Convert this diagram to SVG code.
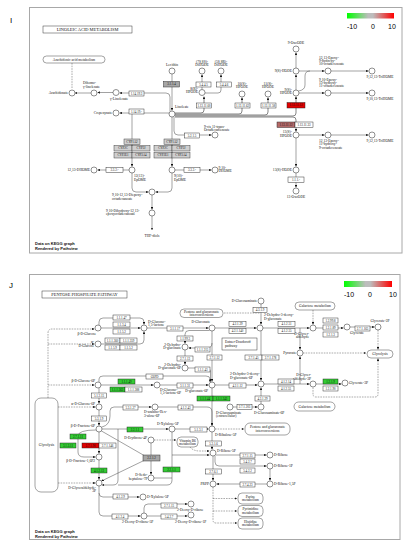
<svg xmlns="http://www.w3.org/2000/svg" width="407" height="550" viewBox="0 0 407 550">
<defs>
<linearGradient id="lg" x1="0" x2="1" y1="0" y2="0">
<stop offset="0" stop-color="#00ff00"/><stop offset="0.45" stop-color="#bdbdbd"/><stop offset="0.55" stop-color="#bdbdbd"/><stop offset="1" stop-color="#ff0000"/>
</linearGradient>
<marker id="a" viewBox="0 0 4 4" refX="4" refY="2" markerWidth="2.4" markerHeight="2.4" markerUnits="userSpaceOnUse" orient="auto"><path d="M0,0 L4,2 L0,4z" fill="#111"/></marker>
<style>
.fr{fill:#fff;stroke:#a8a8a8;stroke-width:1}
circle{fill:#fff;stroke:#222;stroke-width:.5}
.b{fill:#fff;stroke:#222;stroke-width:.45}
.gn{fill:#33cc33;stroke:#222;stroke-width:.45}
.rd{fill:#e00000;stroke:#222;stroke-width:.45}
.br{fill:#b46a6a;stroke:#222;stroke-width:.45}
.gy{fill:#a6a6a6;stroke:#222;stroke-width:.45}
.cy{fill:#cfcfcf;stroke:#333;stroke-width:.45}
.rb{fill:#fff;stroke:#333;stroke-width:.45}
.l{fill:none;stroke:#444;stroke-width:.5}
.w{fill:none;stroke:#777;stroke-width:.9}
.d{fill:none;stroke:#444;stroke-width:.45;stroke-dasharray:1.6 1}
.t{font-family:"Liberation Serif",serif;font-size:3.6px;fill:#111}
.k{font-family:"Liberation Serif",serif;font-size:3.1px;fill:#111;text-anchor:middle}
.e{text-anchor:end}
.m{text-anchor:middle}
.s{font-family:"Liberation Sans",Arial,sans-serif;fill:#000}
.hd{font-family:"Liberation Serif",serif;font-size:4.4px;fill:#111;text-anchor:middle}
.dk{font-family:"Liberation Sans",Arial,sans-serif;font-size:4px;font-weight:bold;fill:#111}
</style>
</defs>
<rect width="407" height="550" fill="#fff"/>

<!-- ================= PANEL I ================= -->
<g id="panel-I">
<text class="s" x="10" y="23" font-size="8" fill="#000">I</text>
<rect class="fr" x="29.5" y="7.5" width="372.5" height="245.5"/>
<g id="legend-I">
<rect x="347" y="13" width="47" height="5.5" fill="url(#lg)"/>
<text class="s m" x="352" y="29" font-size="7">-10</text>
<text class="s m" x="373" y="29" font-size="7">0</text>
<text class="s m" x="392" y="29" font-size="7">10</text>
</g>
<g id="title-I"><rect class="b" x="43" y="26" width="89" height="7"/><text class="hd" x="87.5" y="31.2">LINOLEIC ACID METABOLISM</text></g>
<text class="dk" x="35" y="244.5">Data on KEGG graph</text>
<text class="dk" x="35" y="249.5">Rendered by Pathview</text>
</g>

<g id="connectors-I">
<path class="d" d="M72,63 V89"/>
<path class="l" d="M91,93 H75" marker-end="url(#a)"/>
<path class="l" d="M113,92.5 H97.5" marker-end="url(#a)"/>
<path class="l" d="M170,111 V97 Q170,93 166,93 H119.5" marker-end="url(#a)"/>
<path class="l" d="M169,113 H119.5" marker-end="url(#a)"/>
<path class="l" d="M132,113 V166.5" marker-end="url(#a)"/>
<path class="l" d="M172,74 V110.5" marker-end="url(#a)"/>
<path class="l" d="M172,117 V166.5" marker-end="url(#a)"/>
<path class="l" d="M174,117 V131 Q174,135 178,135 H211.5" marker-end="url(#a)"/>
<path class="w" d="M175,113 H201 Q204,113 204,110 V96.5" marker-end="url(#a)"/>
<path class="w" d="M175,114 H239 Q242,114 242,111 V97.5" marker-end="url(#a)"/>
<path class="w" d="M175,115 H265 Q268,115 268,112 V97.5" marker-end="url(#a)"/>
<path class="w" d="M175,116 H293 Q296,116 296,113 V96.5" marker-end="url(#a)"/>
<path class="w" d="M175,117 H293 Q296,117 296,120 V131.5" marker-end="url(#a)"/>
<path class="l" d="M202,89.5 V74.5" marker-end="url(#a)"/>
<path class="l" d="M205,93 H218 Q221,93 221,90 V74.5" marker-end="url(#a)"/>
<path class="l" d="M296,90 V74.5" marker-end="url(#a)"/>
<path class="l" d="M296,68 V52.5" marker-end="url(#a)"/>
<path class="l" d="M299,71 H324.5" marker-end="url(#a)"/>
<path class="l" d="M331,71 H368.5" marker-end="url(#a)"/>
<path class="l" d="M299,93 H324.5" marker-end="url(#a)"/>
<path class="l" d="M331,93 H368.5" marker-end="url(#a)"/>
<path class="l" d="M298.5,91 Q305,90 305,85 V76 Q305,71 310,71"/>
<path class="l" d="M299,135 H324.5" marker-end="url(#a)"/>
<path class="l" d="M331,135 H368.5" marker-end="url(#a)"/>
<path class="l" d="M296,138 V166.5" marker-end="url(#a)"/>
<path class="l" d="M296,173 V187.5" marker-end="url(#a)"/>
<path class="l" d="M129,170 H97.5" marker-end="url(#a)"/>
<path class="l" d="M175,170 H211.5" marker-end="url(#a)"/>
<path class="l" d="M132,173 V188 Q132,192 136,192 H148.5" marker-end="url(#a)"/>
<path class="l" d="M172,173 V188 Q172,192 168,192 H155.5" marker-end="url(#a)"/>
<path class="l" d="M152,195 V209.5" marker-end="url(#a)"/>
<path class="l" d="M152,216 V230" marker-end="url(#a)"/>
</g>

<g id="nodes-I">
<g id="i-arachidonic-map"><rect class="rb" x="43" y="56" width="62" height="7" rx="3.5"/><text class="t m" x="74" y="60.8" font-size="3.2">Arachidonic acid metabolism</text></g>
<g id="i-arachidonate"><circle cx="72" cy="93" r="3"/><text class="t e" x="68" y="94.2">Arachidonate</text></g>
<g id="i-dihomo"><circle cx="94" cy="93" r="3"/><text class="t" x="83" y="84">Dihomo-<tspan x="83" dy="3.6">γ-linolenate</tspan></text></g>
<g id="i-glinolenate"><circle cx="116" cy="92.5" r="3"/><text class="t" x="110" y="99.5">γ-Linolenate</text></g>
<g id="i-lecithin"><circle cx="172" cy="71" r="3"/><text class="t m" x="172" y="66">Lecithin</text></g>
<g id="i-linoleate"><circle cx="172" cy="114" r="3"/><text class="t" x="175" y="108">Linoleate</text></g>
<g id="i-crepenynate"><circle cx="116" cy="113" r="3"/><text class="t e" x="112" y="114.2">Crepenynate</text></g>
<g id="i-78dihode"><circle cx="202" cy="71" r="3"/><text class="t m" x="202" y="62.5">(7S,8S)-<tspan x="202" dy="3.6">DiHODE</tspan></text></g>
<g id="i-58dihode"><circle cx="221" cy="71" r="3"/><text class="t m" x="221" y="62.5">(5S,8R)-<tspan x="221" dy="3.6">DiHODE</tspan></text></g>
<g id="i-8hpode"><circle cx="202" cy="92.5" r="3"/><text class="t e" x="198" y="89.5">8(R)-<tspan x="198" dy="3.6">HPODE</tspan></text></g>
<g id="i-10hpode"><circle cx="242" cy="94" r="3"/><text class="t m" x="242" y="84.5">10(S)-<tspan x="242" dy="3.6">HPODE</tspan></text></g>
<g id="i-11hpode"><circle cx="268" cy="94" r="3"/><text class="t m" x="268" y="84.5">11(S)-<tspan x="268" dy="3.6">HPODE</tspan></text></g>
<g id="i-9hpode"><circle cx="296" cy="93" r="3"/><text class="t e" x="292" y="90.5">9(S)-<tspan x="292" dy="3.6">HPODE</tspan></text></g>
<g id="i-9hode"><circle cx="296" cy="71" r="3"/><text class="t e" x="292" y="72.2">9(S)-HODE</text></g>
<g id="i-9oxoode"><circle cx="296" cy="49" r="3"/><text class="t m" x="296" y="44">9-OxoODE</text></g>
<g id="i-epoxy1"><circle cx="328" cy="71" r="3"/><text class="t" x="319" y="58.5">12,13-Epoxy-<tspan x="319" dy="3.3">9-hydroxy-</tspan><tspan x="319" dy="3.3">10-octadecenoate</tspan></text></g>
<g id="i-trihome1"><circle cx="372" cy="71" r="3"/><text class="t m" x="380" y="78">9,12,13-TriHOME</text></g>
<g id="i-epoxy2"><circle cx="328" cy="93" r="3"/><text class="t" x="319" y="80.5">9,10-Epoxy-<tspan x="319" dy="3.3">13-hydroxy-</tspan><tspan x="319" dy="3.3">11-octadecenoate</tspan></text></g>
<g id="i-trihome2"><circle cx="372" cy="93" r="3"/><text class="t m" x="380" y="100">9,10,13-TriHOME</text></g>
<g id="i-13hpode"><circle cx="296" cy="135" r="3"/><text class="t e" x="292" y="133">13(S)-<tspan x="292" dy="3.6">HPODE</tspan></text></g>
<g id="i-epoxy3"><circle cx="328" cy="135" r="3"/><text class="t" x="319" y="142">12,13-Epoxy-<tspan x="319" dy="3.3">11-hydroxy-</tspan><tspan x="319" dy="3.3">9-octadecenoate</tspan></text></g>
<g id="i-trihome3"><circle cx="372" cy="135" r="3"/><text class="t m" x="380" y="142">9,12,13-TriHOME</text></g>
<g id="i-13hode"><circle cx="296" cy="170" r="3"/><text class="t e" x="292" y="171.2">13(S)-HODE</text></g>
<g id="i-13oxoode"><circle cx="296" cy="191" r="3"/><text class="t m" x="296" y="198">13-OxoODE</text></g>
<g id="i-octadecadienoate"><circle cx="215" cy="135" r="3"/><text class="t" x="204" y="127.5">9-cis,11-trans-<tspan x="204" dy="3.6">Octadecadienoate</tspan></text></g>
<g id="i-1213epome"><circle cx="132" cy="170" r="3"/><text class="t" x="134" y="177">12(13)-<tspan x="134" dy="3.6">EpOME</tspan></text></g>
<g id="i-1213dhome"><circle cx="94" cy="170" r="3"/><text class="t e" x="90" y="171.2">12,13-DHOME</text></g>
<g id="i-910epome"><circle cx="172" cy="170" r="3"/><text class="t" x="174" y="177">9(10)-<tspan x="174" dy="3.6">EpOME</tspan></text></g>
<g id="i-910dhome"><circle cx="215" cy="170" r="3"/><text class="t" x="218.5" y="168.5">9,10-<tspan x="218.5" dy="3.6">DHOME</tspan></text></g>
<g id="i-diepoxy"><circle cx="152" cy="192" r="3"/><text class="t" x="112" y="196">9,10-12,13-Diepoxy-<tspan x="112" dy="3.6">octadecanoate</tspan></text></g>
<g id="i-dihydroxy"><circle cx="152" cy="213" r="3"/><text class="t" x="106" y="211.5">9,10-Dihydroxy-12,13-<tspan x="106" dy="3.6">epoxyoctadecanoate</tspan></text></g>
<g id="i-thfdiols"><text class="t m" x="152" y="237">THF-diols</text></g>

<g id="ie-1.14.19.3"><rect class="b" x="129" y="91" width="15" height="5"/><text class="k" x="136.5" y="94.6">1.14.19.3</text></g>
<g id="ie-1.14.19.x"><rect class="b" x="129" y="109" width="15" height="5"/><text class="k" x="136.5" y="112.6">1.14.19.-</text></g>
<g id="ie-3.1.1.4"><rect class="gy" x="163.5" y="81.5" width="16" height="5.5"/><text class="k" x="171.5" y="85.3">3.1.1.4</text></g>
<g id="ie-5.4.4.5"><rect class="b" x="196" y="82" width="15" height="5"/><text class="k" x="203.5" y="85.6">5.4.4.5</text></g>
<g id="ie-5.4.4.6"><rect class="b" x="216.5" y="82" width="15" height="5"/><text class="k" x="224" y="85.6">5.4.4.6</text></g>
<g id="ie-1.13.11.60"><rect class="b" x="196.5" y="103" width="15" height="5"/><text class="k" x="204" y="106.6">1.13.11.60</text></g>
<g id="ie-1.13.11.62"><rect class="b" x="235" y="103" width="15" height="5"/><text class="k" x="242.5" y="106.6">1.13.11.62</text></g>
<g id="ie-1.13.11.58"><rect class="b" x="261" y="103" width="15" height="5"/><text class="k" x="268.5" y="106.6">1.13.11.58</text></g>
<g id="ie-1.13.11.12a"><rect class="rd" x="287" y="102.5" width="18" height="5.5"/><text class="k" x="296" y="106.4">1.13.11.12</text></g>
<g id="ie-1.13.11.12b"><rect class="br" x="277" y="122" width="18" height="5.5"/><text class="k" x="286" y="125.9">1.13.11.12</text></g>
<g id="ie-1.13.11.33"><rect class="b" x="295" y="122" width="18" height="5.5"/><text class="k" x="304" y="125.9">1.13.11.33</text></g>
<g id="ie-1.1.1.x"><rect class="b" x="288" y="177" width="16" height="5.5"/><text class="k" x="296" y="180.8">1.1.1.-</text></g>
<g id="ie-5.2.1.5"><rect class="b" x="184.5" y="133" width="15" height="5"/><text class="k" x="192" y="136.6">5.2.1.5</text></g>
<g id="ie-cyp-left">
<rect class="cy" x="124" y="139" width="16" height="5.5"/><text class="k" x="132" y="142.8">CYP1A2</text>
<rect class="cy" x="114" y="145.5" width="18" height="5.5"/><text class="k" x="123" y="149.3">CYP2C</text>
<rect class="cy" x="132" y="145.5" width="18" height="5.5"/><text class="k" x="141" y="149.3">CYP2J</text>
<rect class="cy" x="114" y="152.5" width="18" height="5.5"/><text class="k" x="123" y="156.3">CYP2E1</text>
<rect class="cy" x="132" y="152.5" width="18" height="5.5"/><text class="k" x="141" y="156.3">CYP3A4</text>
</g>
<g id="ie-cyp-right">
<rect class="cy" x="164" y="139" width="16" height="5.5"/><text class="k" x="172" y="142.8">CYP1A2</text>
<rect class="cy" x="154" y="145.5" width="18" height="5.5"/><text class="k" x="163" y="149.3">CYP2C</text>
<rect class="cy" x="172" y="145.5" width="18" height="5.5"/><text class="k" x="181" y="149.3">CYP2J</text>
<rect class="cy" x="154" y="152.5" width="18" height="5.5"/><text class="k" x="163" y="156.3">CYP2E1</text>
<rect class="cy" x="172" y="152.5" width="18" height="5.5"/><text class="k" x="181" y="156.3">CYP3A4</text>
</g>
<g id="ie-3.3.2.x-a"><rect class="b" x="106" y="167.5" width="17" height="5"/><text class="k" x="114.5" y="171.1">3.3.2.-</text></g>
<g id="ie-3.3.2.x-b"><rect class="b" x="184" y="167.5" width="16" height="5"/><text class="k" x="192" y="171.1">3.3.2.-</text></g>
</g>

<!-- ================= PANEL J ================= -->
<g id="panel-J">
<text class="s" x="9" y="288" font-size="8" fill="#000">J</text>
<rect class="fr" x="29.5" y="274.5" width="370.5" height="265"/>
<g id="legend-J">
<rect x="344" y="281" width="48" height="6" fill="url(#lg)"/>
<text class="s m" x="349" y="297" font-size="7">-10</text>
<text class="s m" x="370" y="297" font-size="7">0</text>
<text class="s m" x="393" y="297" font-size="7">10</text>
</g>
<g id="title-J"><rect class="b" x="42" y="291" width="85" height="7"/><text class="hd" x="84.5" y="296.2">PENTOSE PHOSPHATE PATHWAY</text></g>
<text class="dk" x="35" y="532.5">Data on KEGG graph</text>
<text class="dk" x="35" y="537.5">Rendered by Pathview</text>
</g>

<g id="connectors-J">
<path class="d" d="M48,398 V333 Q48,329 52,329 H94.5" marker-end="url(#a)"/>
<path class="d" d="M48,344 H94.5" marker-end="url(#a)"/>
<path class="d" d="M48,385 H94.5" marker-end="url(#a)"/>
<path class="d" d="M58,407 H95.5" marker-end="url(#a)"/>
<path class="d" d="M58,483 H95.5" marker-end="url(#a)"/>
<path class="l" d="M99,325 V322 Q99,318 103,318 H140 Q144,318 144,322 V324.5" marker-end="url(#a)"/>
<path class="l" d="M101,328 H140.5" marker-end="url(#a)"/>
<path class="l" d="M101,344 H140 Q144,344 144,340 V331.5" marker-end="url(#a)"/>
<path class="l" d="M147,328 H208.5" marker-end="url(#a)"/>
<path class="l" d="M209.5,330.5 H189 Q185,330.5 185,334.5 V343.5" marker-end="url(#a)"/>
<path class="l" d="M212,343 Q212,348 207,348 H188.5" marker-end="url(#a)"/>
<path class="l" d="M185,350 V364.5" marker-end="url(#a)"/>
<path class="l" d="M188,368 H206 Q210.5,368 210.5,372 V381.5" marker-end="url(#a)"/>
<path class="l" d="M99,382 V379 Q99,376 103,376 H206 Q210,376 210,379 V382" marker-end="url(#a)"/>
<path class="l" d="M101,385 H153.5" marker-end="url(#a)"/>
<path class="l" d="M160,385 H208.5" marker-end="url(#a)"/>
<path class="l" d="M212,331 V381.5" marker-end="url(#a)"/>
<path class="l" d="M212,388 V425.5" marker-end="url(#a)"/>
<path class="d" d="M224,313 H260"/>
<path class="l" d="M261,304 V324.5" marker-end="url(#a)"/>
<path class="l" d="M215,328 H256.5" marker-end="url(#a)"/>
<path class="l" d="M263,328 H309.5" marker-end="url(#a)"/>
<path class="l" d="M300,328 V349.5" marker-end="url(#a)"/>
<path class="l" d="M300,384 V356.5" marker-end="url(#a)"/>
<path class="d" d="M303,353 H366" marker-end="url(#a)"/>
<path class="l" d="M261,331 V380.5" marker-end="url(#a)"/>
<path class="d" d="M313,310 V324.5" marker-end="url(#a)"/>
<path class="l" d="M316,328 H343.5" marker-end="url(#a)"/>
<path class="l" d="M350,327 H374.5" marker-end="url(#a)"/>
<path class="d" d="M378,330 V349.5" marker-end="url(#a)"/>
<path class="d" d="M313,387.5 V394 Q313,397 316,397 H375 Q378,397 378,394 V358.5" marker-end="url(#a)"/>
<path class="l" d="M215,385 H257.5" marker-end="url(#a)"/>
<path class="l" d="M264,384 H309.5" marker-end="url(#a)"/>
<path class="l" d="M316,384 H341.5" marker-end="url(#a)"/>
<path class="l" d="M261,404 V387.5" marker-end="url(#a)"/>
<path class="l" d="M233,407 H257.5" marker-end="url(#a)"/>
<path class="l" d="M99,388 V403.5" marker-end="url(#a)"/>
<path class="l" d="M99,410 V425.5" marker-end="url(#a)"/>
<path class="l" d="M102,427 Q110,425 110,416 V411 Q110,407 114,407 H151.5" marker-end="url(#a)"/>
<path class="l" d="M158,407 H207 Q212,407 212,412 V425.5" marker-end="url(#a)"/>
<path class="l" d="M102,429 H168.5" marker-end="url(#a)"/>
<path class="l" d="M175,429 H208.5" marker-end="url(#a)"/>
<path class="d" d="M215,429 H244" marker-end="url(#a)"/>
<path class="l" d="M118,429 V480 Q118,485 113,485 H102" marker-end="url(#a)"/>
<path class="l" d="M172,432 V480 Q172,485 167,485 H118"/>
<path class="l" d="M154,478 H172"/>
<path class="l" d="M172,455 H209.5" marker-end="url(#a)"/>
<path class="l" d="M151,443 V474.5" marker-end="url(#a)"/>
<path class="l" d="M101.5,431 L145,456"/>
<path class="l" d="M145,460 L101.5,481" marker-end="url(#a)"/>
<path class="d" d="M154,440 H176" marker-end="url(#a)"/>
<path class="d" d="M190,447 Q193,451 200,451 H209.5" marker-end="url(#a)"/>
<path class="l" d="M212,432 V449.5" marker-end="url(#a)"/>
<path class="l" d="M216,455 H266.5" marker-end="url(#a)"/>
<path class="l" d="M215,456 V462 Q215,466 219,466 H266.5" marker-end="url(#a)"/>
<path class="l" d="M270,469 V480.5" marker-end="url(#a)"/>
<path class="l" d="M267,484 H216.5" marker-end="url(#a)"/>
<path class="l" d="M213,456 V480.5" marker-end="url(#a)"/>
<path class="d" d="M213,487 V520 Q213,523 216,523 H237" marker-end="url(#a)"/>
<path class="d" d="M213,498.5 H237" marker-end="url(#a)"/>
<path class="d" d="M213,511 H237" marker-end="url(#a)"/>
<path class="l" d="M96,430 Q78,430 78,436 V452 Q78,457 84,457 H95.5" marker-end="url(#a)"/>
<path class="l" d="M99,432 V453.5" marker-end="url(#a)"/>
<path class="l" d="M99,460 V479.5" marker-end="url(#a)"/>
<path class="l" d="M99,486 V493 Q99,497 103,497 H139.5" marker-end="url(#a)"/>
<path class="l" d="M99,493 V512 Q99,516 103,516 H140.5" marker-end="url(#a)"/>
<path class="l" d="M144,513 V508 Q144,504 148,504 H187.5" marker-end="url(#a)"/>
<path class="l" d="M147,516 H187.5" marker-end="url(#a)"/>
</g>

<g id="nodes-J">
<g id="j-glycolysis-left"><rect class="rb" x="35" y="398" width="23" height="94" rx="6"/><text class="t m" x="46.5" y="446" font-size="3.3">Glycolysis</text></g>
<g id="j-pentose-map1"><rect class="rb" x="180" y="309" width="43" height="8.5" rx="4"/><text class="t m" x="201.5" y="312.5" font-size="3.1">Pentose and glucuronate<tspan x="201.5" dy="3.3">interconversions</tspan></text></g>
<g id="j-entner"><rect class="b" x="222" y="338" width="35" height="12"/><text class="t" x="225" y="343" font-size="3.2">Entner-Doudoroff<tspan x="225" dy="3.6">pathway</tspan></text></g>
<g id="j-galactose1"><rect class="rb" x="295" y="302" width="40" height="8" rx="4"/><text class="t m" x="315" y="307.2" font-size="3.2">Galactose metabolism</text></g>
<g id="j-glycolysis-right"><rect class="rb" x="367" y="350" width="26" height="8" rx="4"/><text class="t m" x="380" y="355.2" font-size="3.3">Glycolysis</text></g>
<g id="j-galactose2"><rect class="rb" x="294" y="402" width="41" height="9" rx="4.5"/><text class="t m" x="314.5" y="407.6" font-size="3.2">Galactose metabolism</text></g>
<g id="j-pentose-map2"><rect class="rb" x="245" y="423" width="45" height="12" rx="5"/><text class="t m" x="267.5" y="428.3" font-size="3.1">Pentose and glucuronate<tspan x="267.5" dy="3.4">interconversions</tspan></text></g>
<g id="j-vitb6"><rect class="rb" x="177" y="437" width="21" height="10" rx="4"/><text class="t m" x="187.5" y="441.5" font-size="3">Vitamin B6<tspan x="187.5" dy="3.3">metabolism</tspan></text></g>
<g id="j-purine"><rect class="rb" x="238" y="493" width="25" height="11" rx="4"/><text class="t m" x="250.5" y="497.8" font-size="3">Purine<tspan x="250.5" dy="3.3">metabolism</tspan></text></g>
<g id="j-pyrimidine"><rect class="rb" x="238" y="505.5" width="25" height="11" rx="4"/><text class="t m" x="250.5" y="510.3" font-size="3">Pyrimidine<tspan x="250.5" dy="3.3">metabolism</tspan></text></g>
<g id="j-histidine"><rect class="rb" x="238" y="518" width="25" height="11" rx="4"/><text class="t m" x="250.5" y="522.8" font-size="3">Histidine<tspan x="250.5" dy="3.3">metabolism</tspan></text></g>

<g id="j-bglucose"><circle cx="98" cy="328" r="3"/><text class="t e" x="96" y="334.5">β-D-Glucose</text></g>
<g id="j-gluconolactone"><circle cx="144" cy="328" r="3"/><text class="t" x="148" y="322.5">D-Glucono-<tspan x="148" dy="3.6">1,5-lactone</tspan></text></g>
<g id="j-aglucose"><circle cx="98" cy="344" r="3"/><text class="t e" x="94" y="343">α-<tspan x="94" dy="4.2">D-Glucose</tspan></text></g>
<g id="j-gluconate"><circle cx="212" cy="328" r="3"/><text class="t e" x="210" y="323">D-Gluconate</text></g>
<g id="j-2dehydrogluconate"><circle cx="185" cy="347" r="3"/><text class="t e" x="181" y="345.5">2-Dehydro-<tspan x="181" dy="3.6">D-gluconate</tspan></text></g>
<g id="j-2dehydrogluconate6p"><circle cx="185" cy="368" r="3"/><text class="t e" x="181" y="365.5">2-Dehydro-<tspan x="181" dy="3.6">D-gluconate-6P</tspan></text></g>
<g id="j-bglucose6p"><circle cx="98" cy="385" r="3"/><text class="t e" x="95" y="381.5">β-D-Glucose-6P</text></g>
<g id="j-gluconolactone6p"><circle cx="157" cy="385" r="3"/><text class="t" x="160" y="390.5">D-Glucono-<tspan x="160" dy="3.6">1,5-lactone-6P</tspan></text></g>
<g id="j-gluconate6p"><circle cx="212" cy="385" r="3"/><text class="t e" x="208" y="392">D-gluconate-6P</text></g>
<g id="j-glucosaminate"><circle cx="261" cy="301" r="3"/><text class="t e" x="257" y="302.2">D-Glucosaminate</text></g>
<g id="j-kdg"><circle cx="260" cy="328" r="3"/><text class="t" x="264" y="316">2-Dehydro-3-deoxy-<tspan x="264" dy="3.6">D-gluconate</tspan></text></g>
<g id="j-pyruvate"><circle cx="300" cy="353" r="3"/><text class="t e" x="296" y="354.2">Pyruvate</text></g>
<g id="j-glyceraldehyde"><circle cx="313" cy="328" r="3"/><text class="t e" x="309" y="334.5">D-Glycer-<tspan x="309" dy="3.6">aldehyde</tspan></text></g>
<g id="j-glycerate"><circle cx="347" cy="327" r="3"/><text class="t" x="350" y="334">Glycerate</text></g>
<g id="j-glycerate2p"><circle cx="378" cy="327" r="3"/><text class="t m" x="380" y="322">Glycerate-2P</text></g>
<g id="j-gap-right"><circle cx="313" cy="384" r="3"/><text class="t e" x="311" y="376">D-Glycer-<tspan x="311" dy="3.6">aldehyde-3P</tspan></text></g>
<g id="j-glycerate3p"><circle cx="345" cy="383" r="3"/><text class="t" x="349" y="384.2">Glycerate-3P</text></g>
<g id="j-kdpg"><circle cx="261" cy="384" r="3"/><text class="t" x="230" y="375">2-Dehydro-3-deoxy-<tspan x="230" dy="3.6">D-gluconate-6P</tspan></text></g>
<g id="j-glucosaminate-ext"><circle cx="230" cy="407" r="3"/><text class="t" x="216" y="413.5">D-Glucosaminate<tspan x="216" dy="3.6">(extracellular)</tspan></text></g>
<g id="j-glucosaminate6p"><circle cx="261" cy="407" r="3"/><text class="t" x="254" y="414">D-Glucosaminate-6P</text></g>
<g id="j-aglucose6p"><circle cx="99" cy="407" r="3"/><text class="t e" x="95" y="405">α-D-Glucose-6P</text></g>
<g id="j-fructose6p"><circle cx="99" cy="429" r="3"/><text class="t e" x="95" y="427">β-D-Fructose-6P</text></g>
<g id="j-hexulose6p"><circle cx="155" cy="407" r="3"/><text class="t" x="144" y="413">D-arabino-Hex-<tspan x="144" dy="3.6">3-ulose-6P</tspan></text></g>
<g id="j-fbp"><circle cx="99" cy="457" r="3"/><text class="t e" x="95" y="462">β-D-Fructose-1,6P2</text></g>
<g id="j-gap-left"><circle cx="99" cy="483" r="3"/><text class="t e" x="96" y="488.5">D-Glyceraldehyde-<tspan x="96" dy="3.6">3P</tspan></text></g>
<g id="j-xylulose5p"><circle cx="172" cy="429" r="3"/><text class="t" x="157" y="424.5">D-Xylulose-5P</text></g>
<g id="j-ribulose5p"><circle cx="212" cy="429" r="3"/><text class="t" x="215" y="435.5">D-Ribulose-5P</text></g>
<g id="j-erythrose4p"><circle cx="151" cy="440" r="3"/><text class="t e" x="147" y="439">D-Erythrose-4P</text></g>
<g id="j-sedoheptulose7p"><circle cx="151" cy="478" r="3"/><text class="t e" x="147.5" y="476">D-Sedo-<tspan x="147.5" dy="3.6">heptulose-7P</tspan></text></g>
<g id="j-ribose5p"><circle cx="213" cy="453" r="3"/><text class="t" x="217" y="452">D-Ribose-5P</text></g>
<g id="j-ribose"><circle cx="270" cy="455" r="3"/><text class="t" x="274" y="456.2">D-Ribose</text></g>
<g id="j-ribose1p"><circle cx="270" cy="466" r="3"/><text class="t" x="274" y="467.2">D-Ribose-1P</text></g>
<g id="j-ribose15p"><circle cx="270" cy="484" r="3"/><text class="t" x="274" y="485.2">D-Ribose-1,5P</text></g>
<g id="j-prpp"><circle cx="213" cy="484" r="3"/><text class="t e" x="209" y="485.2">PRPP</text></g>
<g id="j-xylulose5p-b"><circle cx="143" cy="497" r="3"/><text class="t" x="147" y="498.2">D-Xylulose-5P</text></g>
<g id="j-deoxyribose5p"><circle cx="144" cy="516" r="3"/><text class="t" x="122" y="523">2-Deoxy-D-ribose-5P</text></g>
<g id="j-deoxyribose"><circle cx="191" cy="504" r="3"/><text class="t" x="177" y="510.5">2-Deoxy-D-ribose</text></g>
<g id="j-deoxyribose1p"><circle cx="191" cy="515" r="3"/><text class="t" x="175" y="523">2-Deoxy-D-ribose-1P</text></g>

<g id="je-1.1.1.47"><rect class="b" x="113" y="315" width="17" height="5"/><text class="k" x="121.5" y="318.6">1.1.1.47</text></g>
<g id="je-1.1.3.4"><rect class="b" x="113" y="322" width="17" height="5"/><text class="k" x="121.5" y="325.6">1.1.3.4</text></g>
<g id="je-1.1.5.2a"><rect class="b" x="113" y="329" width="17" height="5"/><text class="k" x="121.5" y="332.6">1.1.5.2</text></g>
<g id="je-1.1.1.360"><rect class="b" x="105" y="338" width="15" height="5"/><text class="k" x="112.5" y="341.6">1.1.1.360</text></g>
<g id="je-1.1.1.359"><rect class="b" x="120" y="338" width="17" height="5"/><text class="k" x="128.5" y="341.6">1.1.1.359</text></g>
<g id="je-1.1.5.9"><rect class="b" x="105" y="345" width="15" height="5"/><text class="k" x="112.5" y="348.6">1.1.5.9</text></g>
<g id="je-1.1.5.2b"><rect class="b" x="120" y="345" width="17" height="5"/><text class="k" x="128.5" y="348.6">1.1.5.2</text></g>
<g id="je-3.1.1.17"><rect class="b" x="167" y="326" width="16" height="5"/><text class="k" x="175" y="329.6">3.1.1.17</text></g>
<g id="je-1.1.99.3"><rect class="b" x="177" y="336" width="16" height="5"/><text class="k" x="185" y="339.6">1.1.99.3</text></g>
<g id="je-1.1.1.215"><rect class="b" x="195" y="347" width="15" height="5"/><text class="k" x="202.5" y="350.6">1.1.1.215</text></g>
<g id="je-2.7.1.13"><rect class="b" x="177" y="356" width="16" height="5"/><text class="k" x="185" y="359.6">2.7.1.13</text></g>
<g id="je-1.1.1.43"><rect class="b" x="195" y="367" width="15" height="5"/><text class="k" x="202.5" y="370.6">1.1.1.43</text></g>
<g id="je-g6pd"><rect class="b" x="146" y="374" width="17" height="5"/><text class="k" x="154.5" y="377.6">G6PD</text></g>
<g id="je-1.1.1.49"><rect class="gn" x="118" y="379" width="17" height="5"/><text class="k" x="126.5" y="382.6">1.1.1.49</text></g>
<g id="je-1.1.1.363"><rect class="gn" x="110" y="387" width="15" height="5"/><text class="k" x="117.5" y="390.6">1.1.1.363</text></g>
<g id="je-1.1.1.388"><rect class="b" x="125" y="387" width="17" height="5"/><text class="k" x="133.5" y="390.6">1.1.1.388</text></g>
<g id="je-3.1.1.31"><rect class="b" x="177" y="383" width="16" height="5"/><text class="k" x="185" y="386.6">3.1.1.31</text></g>
<g id="je-2.7.1.12"><rect class="b" x="207" y="355" width="15" height="5"/><text class="k" x="214.5" y="358.6">2.7.1.12</text></g>
<g id="je-1.1.1.44"><rect class="gn" x="197" y="396" width="16" height="5"/><text class="k" x="205" y="399.6">1.1.1.44</text></g>
<g id="je-1.1.1.343"><rect class="gn" x="213" y="396" width="17" height="5"/><text class="k" x="221.5" y="399.6">1.1.1.343</text></g>
<g id="je-4.3.1.9"><rect class="b" x="253" y="307.5" width="14" height="5"/><text class="k" x="260" y="311.1">4.3.1.9</text></g>
<g id="je-4.2.1.39"><rect class="b" x="229" y="321.5" width="17" height="5"/><text class="k" x="237.5" y="325.1">4.2.1.39</text></g>
<g id="je-4.2.1.140"><rect class="b" x="229" y="328.5" width="17" height="5"/><text class="k" x="237.5" y="332.1">4.2.1.140</text></g>
<g id="je-4.1.2.51"><rect class="b" x="278" y="321.5" width="17" height="5"/><text class="k" x="286.5" y="325.1">4.1.2.51</text></g>
<g id="je-4.1.2.55a"><rect class="b" x="278" y="328.5" width="17" height="5"/><text class="k" x="286.5" y="332.1">4.1.2.55</text></g>
<g id="je-2.7.1.45"><rect class="b" x="245" y="355" width="17" height="5"/><text class="k" x="253.5" y="358.6">2.7.1.45</text></g>
<g id="je-2.7.1.178"><rect class="b" x="262" y="355" width="17" height="5"/><text class="k" x="270.5" y="358.6">2.7.1.178</text></g>
<g id="je-1.2.99.8"><rect class="b" x="323" y="318" width="15" height="5"/><text class="k" x="330.5" y="321.6">1.2.99.8</text></g>
<g id="je-1.2.1.89"><rect class="b" x="323" y="325" width="15" height="5"/><text class="k" x="330.5" y="328.6">1.2.1.89</text></g>
<g id="je-1.2.1.3"><rect class="b" x="323" y="332" width="15" height="5"/><text class="k" x="330.5" y="335.6">1.2.1.3</text></g>
<g id="je-2.7.1.165"><rect class="b" x="355" y="326" width="15" height="5"/><text class="k" x="362.5" y="329.6">2.7.1.165</text></g>
<g id="je-1.2.1.9"><rect class="gn" x="323" y="379" width="15" height="5"/><text class="k" x="330.5" y="382.6">1.2.1.9</text></g>
<g id="je-1.2.1.90"><rect class="b" x="323" y="386" width="15" height="5"/><text class="k" x="330.5" y="389.6">1.2.1.90</text></g>
<g id="je-4.1.2.14"><rect class="b" x="278" y="379" width="16" height="5"/><text class="k" x="286" y="382.6">4.1.2.14</text></g>
<g id="je-4.1.2.55b"><rect class="b" x="278" y="386" width="16" height="5"/><text class="k" x="286" y="389.6">4.1.2.55</text></g>
<g id="je-4.2.1.12"><rect class="b" x="229" y="383" width="17" height="5"/><text class="k" x="237.5" y="386.6">4.2.1.12</text></g>
<g id="je-4.3.1.29"><rect class="b" x="255" y="396" width="15" height="5"/><text class="k" x="262.5" y="399.6">4.3.1.29</text></g>
<g id="je-2.7.1.203"><rect class="b" x="237" y="404.5" width="15" height="5"/><text class="k" x="244.5" y="408.1">2.7.1.203</text></g>
<g id="je-5.1.3.15"><rect class="b" x="91.5" y="393" width="15" height="5"/><text class="k" x="99" y="396.6">5.1.3.15</text></g>
<g id="je-5.3.1.9"><rect class="b" x="91.5" y="416" width="15" height="5"/><text class="k" x="99" y="419.6">5.3.1.9</text></g>
<g id="je-5.3.1.27"><rect class="b" x="123" y="405" width="15" height="5"/><text class="k" x="130.5" y="408.6">5.3.1.27</text></g>
<g id="je-4.1.2.43"><rect class="b" x="178" y="405" width="15" height="5"/><text class="k" x="185.5" y="408.6">4.1.2.43</text></g>
<g id="je-2.2.1.1a"><rect class="gn" x="127" y="427" width="16" height="5"/><text class="k" x="135" y="430.6">2.2.1.1</text></g>
<g id="je-2.7.1.11"><rect class="gn" x="70" y="434" width="16" height="5"/><text class="k" x="78" y="437.6">2.7.1.11</text></g>
<g id="je-3.1.3.11"><rect class="gn" x="60" y="443" width="16" height="5"/><text class="k" x="68" y="446.6">3.1.3.11</text></g>
<g id="je-2.7.1.90"><rect class="rd" x="82" y="443" width="17" height="5"/><text class="k" x="90.5" y="446.6">2.7.1.90</text></g>
<g id="je-2.7.1.146"><rect class="b" x="99" y="443" width="17" height="5"/><text class="k" x="107.5" y="446.6">2.7.1.146</text></g>
<g id="je-4.1.2.13"><rect class="gn" x="91" y="468" width="16" height="5"/><text class="k" x="99" y="471.6">4.1.2.13</text></g>
<g id="je-2.2.1.2"><rect class="gy" x="143" y="455" width="17" height="6"/><text class="k" x="151.5" y="459.1">2.2.1.2</text></g>
<g id="je-2.2.1.1b"><rect class="gn" x="163" y="467" width="17" height="5"/><text class="k" x="171.5" y="470.6">2.2.1.1</text></g>
<g id="je-5.1.3.1"><rect class="b" x="190" y="427" width="17" height="5"/><text class="k" x="198.5" y="430.6">5.1.3.1</text></g>
<g id="je-5.3.1.6"><rect class="b" x="205.5" y="441" width="16" height="5"/><text class="k" x="213.5" y="444.6">5.3.1.6</text></g>
<g id="je-2.7.1.15a"><rect class="b" x="240" y="453" width="15" height="5"/><text class="k" x="247.5" y="456.6">2.7.1.15</text></g>
<g id="je-5.4.2.7a"><rect class="b" x="240" y="459" width="15" height="5"/><text class="k" x="247.5" y="462.6">5.4.2.7</text></g>
<g id="je-5.4.2.2"><rect class="b" x="240" y="468" width="15" height="5"/><text class="k" x="247.5" y="471.6">5.4.2.2</text></g>
<g id="je-2.7.6.1"><rect class="b" x="205.5" y="469" width="16" height="5"/><text class="k" x="213.5" y="472.6">2.7.6.1</text></g>
<g id="je-2.7.4.23"><rect class="b" x="240" y="482" width="15" height="5"/><text class="k" x="247.5" y="485.6">2.7.4.23</text></g>
<g id="je-4.1.2.9"><rect class="b" x="113" y="494" width="15" height="5"/><text class="k" x="120.5" y="497.6">4.1.2.9</text></g>
<g id="je-4.1.2.4"><rect class="b" x="112" y="514" width="16" height="5"/><text class="k" x="120" y="517.6">4.1.2.4</text></g>
<g id="je-2.7.1.15b"><rect class="b" x="161" y="503" width="16" height="5"/><text class="k" x="169" y="506.6">2.7.1.15</text></g>
<g id="je-5.4.2.7b"><rect class="b" x="161" y="514" width="16" height="5"/><text class="k" x="169" y="517.6">5.4.2.7</text></g>
</g>
</svg>
